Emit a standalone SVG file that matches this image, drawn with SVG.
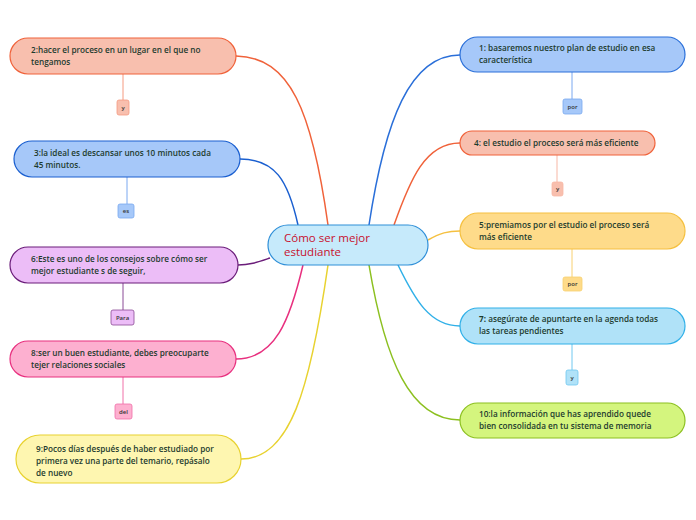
<svg xmlns="http://www.w3.org/2000/svg" width="696" height="520" viewBox="0 0 696 520">
<style>
.t{font-family:"Open Sans","Noto Sans","Liberation Sans",sans-serif;font-size:8.2px;font-weight:600;fill:#1d3b2e}
.s{font-family:"Open Sans","Noto Sans","Liberation Sans",sans-serif;font-size:6px;font-weight:600;fill:#333;text-anchor:middle}
.c{fill:none;stroke-width:1.5}
.v{fill:none;stroke-width:1}
</style>
<rect width="696" height="520" fill="#fff"/>
<g id="connectors">
<path class="c" stroke="#f0623a" d="M328,225 C312,110 290,57 236,56"/>
<path class="c" stroke="#1a5fd0" d="M298,225 C288,180 275,159 240,159"/>
<path class="c" stroke="#6b1d7a" d="M270,258 C258,262 250,265 238,265"/>
<path class="c" stroke="#e8307f" d="M303,265 C290,320 275,359 236,359"/>
<path class="c" stroke="#e8d230" d="M328,265 C310,390 290,459 241,459"/>
<path class="c" stroke="#2a6fd9" d="M369,225 C385,120 410,55 460,55"/>
<path class="c" stroke="#f0623a" d="M394,225 C410,180 425,143 460,143"/>
<path class="c" stroke="#f5c040" d="M428,240 C440,233 448,231 460,231"/>
<path class="c" stroke="#30b0e8" d="M398,265 C415,300 430,326 460,326"/>
<path class="c" stroke="#8cc020" d="M369,265 C385,360 410,420 460,420"/>
<path class="v" stroke="#f59a80" d="M123,74 V100"/>
<path class="v" stroke="#7aa8f0" d="M127,177 V204"/>
<path class="v" stroke="#8a4a96" d="M123,283 V310"/>
<path class="v" stroke="#f070a8" d="M123,377 V404"/>
<path class="v" stroke="#7aa8f0" d="M572,72 V99"/>
<path class="v" stroke="#f7b7a5" d="M557,155 V182"/>
<path class="v" stroke="#f8d070" d="M572,249 V277"/>
<path class="v" stroke="#70c8f0" d="M572,344 V370"/>
</g>
<g id="center">
<rect x="268" y="225" width="160" height="40" rx="20" fill="#c6eafb" stroke="#2f8fd8" stroke-width="1.2"/>
<text font-family="'Open Sans','Noto Sans','Liberation Sans',sans-serif" font-size="11.5" fill="#c8102e"><tspan x="284" y="242">Cómo ser mejor</tspan><tspan x="284" y="256">estudiante</tspan></text>
</g>
<g id="n2">
<rect x="10" y="38" width="226" height="36" rx="18" fill="#f8bfae" stroke="#f0623a" stroke-width="1.2"/>
<text class="t"><tspan x="31" y="53">2:hacer el proceso en un lugar en el que no</tspan><tspan x="31" y="65">tengamos</tspan></text>
</g>
<g id="n2y">
<rect x="117" y="100" width="12" height="15" rx="2" fill="#f8bfae" stroke="#f59a80" stroke-width="0.8"/>
<text class="s" x="123" y="110">y</text>
</g>
<g id="n3">
<rect x="14" y="141" width="226" height="36" rx="18" fill="#a6c8f9" stroke="#1a5fd0" stroke-width="1.2"/>
<text class="t"><tspan x="34" y="156">3:la ideal es descansar unos 10 minutos cada</tspan><tspan x="34" y="168">45 minutos.</tspan></text>
</g>
<g id="n3es">
<rect x="118" y="204" width="16" height="14" rx="2" fill="#a6c8f9" stroke="#7aa8f0" stroke-width="0.8"/>
<text class="s" x="126" y="213">es</text>
</g>
<g id="n6">
<rect x="10" y="247" width="228" height="36" rx="18" fill="#ecbdf7" stroke="#6b1d7a" stroke-width="1.2"/>
<text class="t"><tspan x="31" y="262">6:Este es uno de los consejos sobre cómo ser</tspan><tspan x="31" y="274">mejor estudiante s de seguir,</tspan></text>
</g>
<g id="n6para">
<rect x="111" y="310" width="23" height="15" rx="2" fill="#ecbdf7" stroke="#8a4a96" stroke-width="0.8"/>
<text class="s" x="122.5" y="320">Para</text>
</g>
<g id="n8">
<rect x="10" y="341" width="226" height="36" rx="18" fill="#fdb0d0" stroke="#e8307f" stroke-width="1.2"/>
<text class="t"><tspan x="31" y="356">8:ser un buen estudiante, debes preocuparte</tspan><tspan x="31" y="368">tejer relaciones sociales</tspan></text>
</g>
<g id="n8del">
<rect x="115" y="404" width="17" height="15" rx="2" fill="#fdb0d0" stroke="#f070a8" stroke-width="0.8"/>
<text class="s" x="123.5" y="414">del</text>
</g>
<g id="n9">
<rect x="16" y="435" width="225" height="48" rx="24" fill="#fef6b0" stroke="#e8d230" stroke-width="1.2"/>
<text class="t"><tspan x="36" y="452">9:Pocos días después de haber estudiado por</tspan><tspan x="36" y="464">primera vez una parte del temario, repásalo</tspan><tspan x="36" y="476">de nuevo</tspan></text>
</g>
<g id="n1">
<rect x="460" y="37" width="225" height="35" rx="17.5" fill="#a6c8f9" stroke="#2a6fd9" stroke-width="1.2"/>
<text class="t"><tspan x="479" y="51">1: basaremos nuestro plan de estudio en esa</tspan><tspan x="479" y="63">característica</tspan></text>
</g>
<g id="n1por">
<rect x="563" y="99" width="19" height="15" rx="2" fill="#a6c8f9" stroke="#7aa8f0" stroke-width="0.8"/>
<text class="s" x="572.5" y="109">por</text>
</g>
<g id="n4">
<rect x="460" y="131" width="195" height="24" rx="12" fill="#f8bfae" stroke="#f0623a" stroke-width="1.2"/>
<text class="t" x="474" y="146">4: el estudio el proceso será más eficiente</text>
</g>
<g id="n4y">
<rect x="552" y="182" width="11" height="14" rx="2" fill="#f8bfae" stroke="#f7b7a5" stroke-width="0.8"/>
<text class="s" x="557.5" y="191">y</text>
</g>
<g id="n5">
<rect x="460" y="213" width="225" height="36" rx="18" fill="#fedb8a" stroke="#f5c040" stroke-width="1.2"/>
<text class="t"><tspan x="479" y="228">5:premiamos por el estudio el proceso será</tspan><tspan x="479" y="240">más eficiente</tspan></text>
</g>
<g id="n5por">
<rect x="563" y="277" width="19" height="14" rx="2" fill="#fedb8a" stroke="#f8d070" stroke-width="0.8"/>
<text class="s" x="572.5" y="286">por</text>
</g>
<g id="n7">
<rect x="460" y="308" width="225" height="36" rx="18" fill="#b0e2f8" stroke="#30b0e8" stroke-width="1.2"/>
<text class="t" font-weight="400"><tspan x="479" y="322"><tspan font-weight="700">7:</tspan> asegúrate de apuntarte en la agenda todas</tspan><tspan x="479" y="334">las tareas pendientes</tspan></text>
</g>
<g id="n7y">
<rect x="566" y="370" width="12" height="15" rx="2" fill="#b0e2f8" stroke="#70c8f0" stroke-width="0.8"/>
<text class="s" x="572" y="380">y</text>
</g>
<g id="n10">
<rect x="460" y="403" width="225" height="35" rx="17.5" fill="#d4f57e" stroke="#8cc020" stroke-width="1.2"/>
<text class="t"><tspan x="479" y="417">10:la información que has aprendido quede</tspan><tspan x="479" y="429">bien consolidada en tu sistema de memoria</tspan></text>
</g>
</svg>
